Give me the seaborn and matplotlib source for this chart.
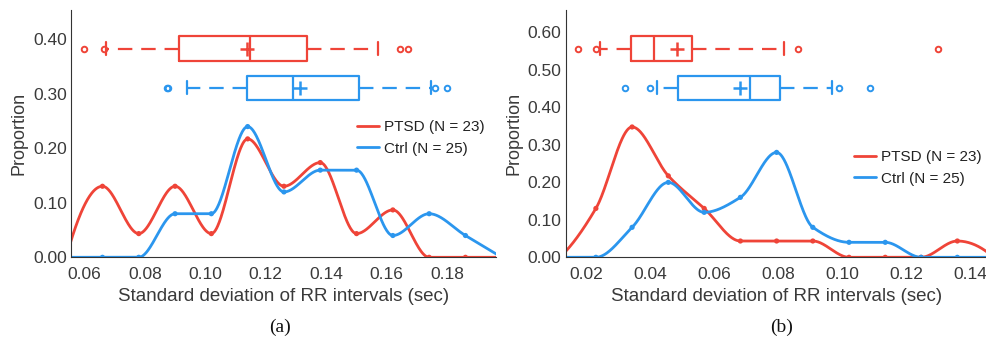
import numpy as np
import pandas as pd
import matplotlib
matplotlib.use("Agg")
import matplotlib.pyplot as plt
from matplotlib.lines import Line2D
import seaborn as sns

# ---------------- data ----------------
# Panel (a): histogram bin centres and counts (proportions = counts / N)
a_centers = [0.054, 0.066, 0.078, 0.090, 0.102, 0.114, 0.126, 0.138, 0.150, 0.162, 0.174, 0.186, 0.198]
a_ptsd_counts = [0, 3, 1, 3, 1, 5, 3, 4, 1, 2, 0, 0, 0]
a_ctrl_counts = [0, 0, 0, 2, 2, 6, 3, 4, 4, 1, 2, 1, 0]

# Panel (b)
b_centers = [0.0118, 0.0231, 0.0344, 0.0457, 0.0569, 0.0682, 0.0795, 0.0908, 0.1021, 0.1134, 0.1246, 0.1359, 0.1472]
b_ptsd_counts = [0, 3, 8, 5, 3, 1, 1, 1, 0, 0, 0, 1, 0]
b_ctrl_counts = [0, 0, 2, 5, 3, 4, 7, 2, 1, 1, 0, 0, 0]

N_PTSD = 23
N_CTRL = 25
labels = ["PTSD (N = 23)", "Ctrl (N = 25)"]

# Box plot summaries: q1, median, q3, mean, whisker low, whisker high, outliers
a_ptsd_box = dict(q1=0.0913, med=0.1148, q3=0.1336, mean=0.1137, whislo=0.0672, whishi=0.1572,
                  fliers=[0.0600, 0.0665, 0.1642, 0.1669])
a_ctrl_box = dict(q1=0.1137, med=0.1289, q3=0.1508, mean=0.1313, whislo=0.0941, whishi=0.1745,
                  fliers=[0.0874, 0.0877, 0.1760, 0.1798])
b_ptsd_box = dict(q1=0.0340, med=0.0412, q3=0.0532, mean=0.0484, whislo=0.0244, whishi=0.0818,
                  fliers=[0.0174, 0.0231, 0.0862, 0.1300])
b_ctrl_box = dict(q1=0.0488, med=0.0711, q3=0.0806, mean=0.0680, whislo=0.0423, whishi=0.0967,
                  fliers=[0.0322, 0.0401, 0.0991, 0.1087])

RED = "#EF4438"
BLUE = "#2B96EE"
TXT = "#3a3a3a"


def pchip(x, y, xq):
    x = np.asarray(x, float)
    y = np.asarray(y, float)
    h = np.diff(x)
    delta = np.diff(y) / h
    n = len(x)
    d = np.zeros(n)
    for k in range(1, n - 1):
        if delta[k - 1] * delta[k] > 0:
            w1 = 2 * h[k] + h[k - 1]
            w2 = h[k] + 2 * h[k - 1]
            d[k] = (w1 + w2) / (w1 / delta[k - 1] + w2 / delta[k])

    def endpoint(h0, h1, d0, d1):
        v = ((2 * h0 + h1) * d0 - h0 * d1) / (h0 + h1)
        if np.sign(v) != np.sign(d0):
            v = 0.0
        elif np.sign(d0) != np.sign(d1) and abs(v) > abs(3 * d0):
            v = 3 * d0
        return v

    d[0] = endpoint(h[0], h[1], delta[0], delta[1])
    d[-1] = endpoint(h[-1], h[-2], delta[-1], delta[-2])
    idx = np.clip(np.searchsorted(x, xq) - 1, 0, n - 2)
    t = (xq - x[idx]) / h[idx]
    h00 = 2 * t**3 - 3 * t**2 + 1
    h10 = t**3 - 2 * t**2 + t
    h01 = -2 * t**3 + 3 * t**2
    h11 = t**3 - t**2
    return h00 * y[idx] + h10 * h[idx] * d[idx] + h01 * y[idx + 1] + h11 * h[idx] * d[idx + 1]


def draw_box(ax, color, pos, height, capw, s):
    stats = [dict(s)]
    ax.bxp(stats, positions=[pos], widths=height, orientation="horizontal",
           showmeans=True, capwidths=[capw], manage_ticks=False,
           boxprops=dict(color=color, lw=1.6),
           medianprops=dict(color=color, lw=1.6),
           whiskerprops=dict(color=color, lw=1.6, linestyle=(0, (6.5, 4.0))),
           capprops=dict(color=color, lw=1.6),
           meanprops=dict(marker="+", markeredgecolor=color, markersize=10, markeredgewidth=1.8),
           flierprops=dict(marker="o", markerfacecolor="none", markeredgecolor=color,
                           markersize=4, markeredgewidth=1.4))


def panel(ax, centers, ptsd_c, ctrl_c, xlim, ylim, xticks, yticks, boxes, leg_anchor):
    for counts, n, col, lab in [(ptsd_c, N_PTSD, RED, labels[0]), (ctrl_c, N_CTRL, BLUE, labels[1])]:
        prop = np.asarray(counts, float) / n
        xq = np.linspace(centers[0], centers[-1], 800)
        yq = pchip(centers, prop, xq)
        df = pd.DataFrame({"x": xq, "y": yq})
        sns.lineplot(data=df, x="x", y="y", ax=ax, color=col, lw=2.0, estimator=None,
                     sort=False, label=lab, legend=False)
        sns.scatterplot(x=centers, y=prop, ax=ax, color=col, s=14, edgecolor="none",
                        legend=False, zorder=3)
    for (col, pos, hgt, capw, s) in boxes:
        draw_box(ax, col, pos, hgt, capw, s)
    ax.set_xlim(*xlim)
    ax.set_ylim(*ylim)
    ax.set_xticks(xticks)
    ax.set_xticklabels([f"{t:.2f}" for t in xticks])
    ax.set_yticks(yticks)
    ax.set_yticklabels([f"{t:.2f}" for t in yticks])
    ax.set_xlabel("Standard deviation of RR intervals (sec)", fontsize=13.5, color=TXT, labelpad=4)
    ax.set_ylabel("Proportion", fontsize=13, color=TXT, labelpad=4)
    for sp in ["top", "right"]:
        ax.spines[sp].set_visible(False)
    for sp in ["left", "bottom"]:
        ax.spines[sp].set_color("#333333")
        ax.spines[sp].set_linewidth(0.8)
    ax.tick_params(direction="in", length=4, width=0.8, color="#333333",
                   labelsize=12.5, labelcolor=TXT)
    ax.tick_params(axis="x", pad=7)
    ax.tick_params(axis="y", pad=3)
    handles = [Line2D([], [], color=RED, lw=2.0), Line2D([], [], color=BLUE, lw=2.0)]
    ax.legend(handles, labels, loc="upper left", bbox_to_anchor=leg_anchor,
              bbox_transform=ax.figure.transFigure, frameon=False, fontsize=11,
              handlelength=1.45, handletextpad=0.3, labelspacing=0.5,
              borderpad=0, borderaxespad=0, labelcolor="#222222")


sns.set_theme(style="white")
plt.rcParams["font.family"] = ["Liberation Sans", "DejaVu Sans"]

W, H = 987, 343
fig = plt.figure(figsize=(W / 100, H / 100), dpi=100)

axa = fig.add_axes([71 / W, 1 - 257.3 / H, (496 - 71) / W, (257.3 - 10) / H])
axb = fig.add_axes([565.7 / W, 1 - 257.3 / H, (986.5 - 565.7) / W, (257.3 - 10) / H])

panel(axa, a_centers, a_ptsd_counts, a_ctrl_counts,
      (0.0556, 0.1961), (0, 0.454),
      [0.06, 0.08, 0.10, 0.12, 0.14, 0.16, 0.18], [0.0, 0.1, 0.2, 0.3, 0.4],
      [(RED, 0.383, 0.045, 0.024, a_ptsd_box), (BLUE, 0.311, 0.045, 0.024, a_ctrl_box)],
      (357 / W, 1 - 120 / H))

panel(axb, b_centers, b_ptsd_counts, b_ctrl_counts,
      (0.01368, 0.1450), (0, 0.66),
      [0.02, 0.04, 0.06, 0.08, 0.10, 0.12, 0.14], [0.0, 0.1, 0.2, 0.3, 0.4, 0.5, 0.6],
      [(RED, 0.557, 0.066, 0.035, b_ptsd_box), (BLUE, 0.452, 0.066, 0.035, b_ctrl_box)],
      (854 / W, 1 - 150 / H))

fig.text(280 / W, 1 - 327 / H, "(a)", ha="center", va="center", fontsize=14,
         family=["Liberation Serif", "DejaVu Serif"], color="#111111")
fig.text(782 / W, 1 - 327 / H, "(b)", ha="center", va="center", fontsize=14,
         family=["Liberation Serif", "DejaVu Serif"], color="#111111")

fig.savefig("out.png", dpi=100)
